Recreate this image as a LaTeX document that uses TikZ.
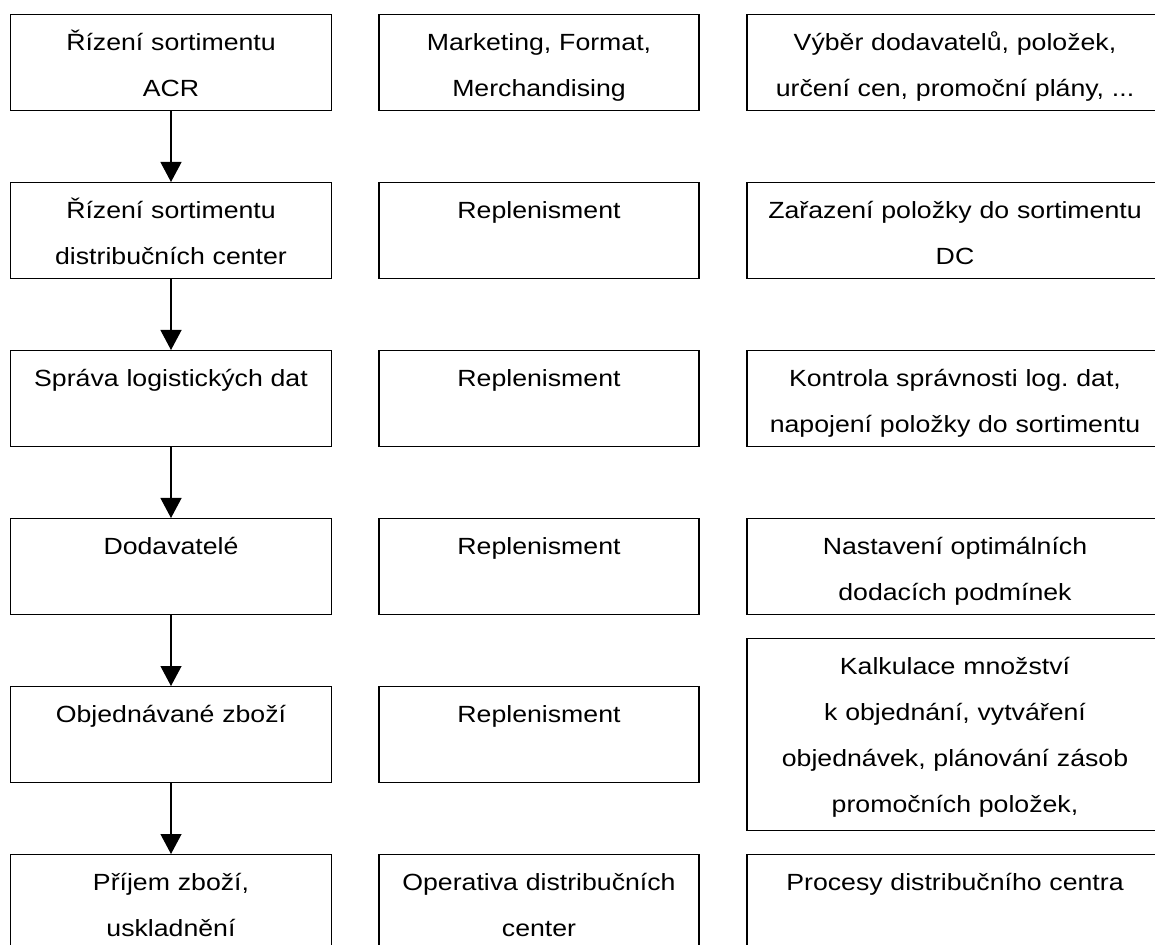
\documentclass[tikz,border=0pt]{standalone}
\usepackage{fontspec}
\setmainfont{Liberation Sans}[FakeStretch=1.14]
\usetikzlibrary{arrows.meta}
\frenchspacing
\begin{document}
\begin{tikzpicture}[x=0.5pt, y=-0.5pt, >={Triangle[width=10.5pt,length=10pt]}, line width=0.6pt, font=\fontsize{11.7}{23}\selectfont]
      \tikzset{box/.style={draw, anchor=north, inner sep=0pt, align=center, text height=18pt, text depth=30pt},
               lbox/.style={box, text width=160.5pt},
               mbox/.style={box, text width=160pt},
               rbox/.style={box, text width=208pt}}
      \useasboundingbox (0,0) rectangle (1155,945);

      \node[lbox] (acr) at (171,14) {Řízení sortimentu\\ACR};
      \node[lbox] (dcsort) at (171,182) {Řízení sortimentu\\distribučních center};
      \node[lbox] (logdata) at (171,350) {Správa logistických dat};
      \node[lbox] (dodav) at (171,518) {Dodavatelé};
      \node[lbox] (objzbozi) at (171,686) {Objednávané zboží};
      \node[lbox] (prijem) at (171,854) {Příjem zboží,\\uskladnění};
      \draw[->] (acr) -- (dcsort);
      \draw[->] (dcsort) -- (logdata);
      \draw[->] (logdata) -- (dodav);
      \draw[->] (dodav) -- (objzbozi);
      \draw[->] (objzbozi) -- (prijem);

      \node[mbox] (mkt) at (539,14) {Marketing, Format,\\Merchandising};
      \node[mbox] (repl1) at (539,182) {Replenisment};
      \node[mbox] (repl2) at (539,350) {Replenisment};
      \node[mbox] (repl3) at (539,518) {Replenisment};
      \node[mbox] (repl4) at (539,686) {Replenisment};
      \node[mbox] (operativa) at (539,854) {Operativa distribučních\\center};

      \node[rbox] (vyber) at (955,14) {Výběr dodavatelů, položek,\\určení cen, promoční plány, ...};
      \node[rbox] (zarazeni) at (955,182) {Zařazení položky do sortimentu\\DC};
      \node[rbox] (kontrola) at (955,350) {Kontrola správnosti log. dat,\\napojení položky do sortimentu};
      \node[rbox] (nastaveni) at (955,518) {Nastavení optimálních\\dodacích podmínek};
      \node[rbox, text depth=78pt] (kalkulace) at (955,638) {Kalkulace množství\\k objednání, vytváření\\objednávek, plánování zásob\\promočních položek,};
      \node[rbox] (procesy) at (955,854) {Procesy distribučního centra};
\end{tikzpicture}
\end{document}
